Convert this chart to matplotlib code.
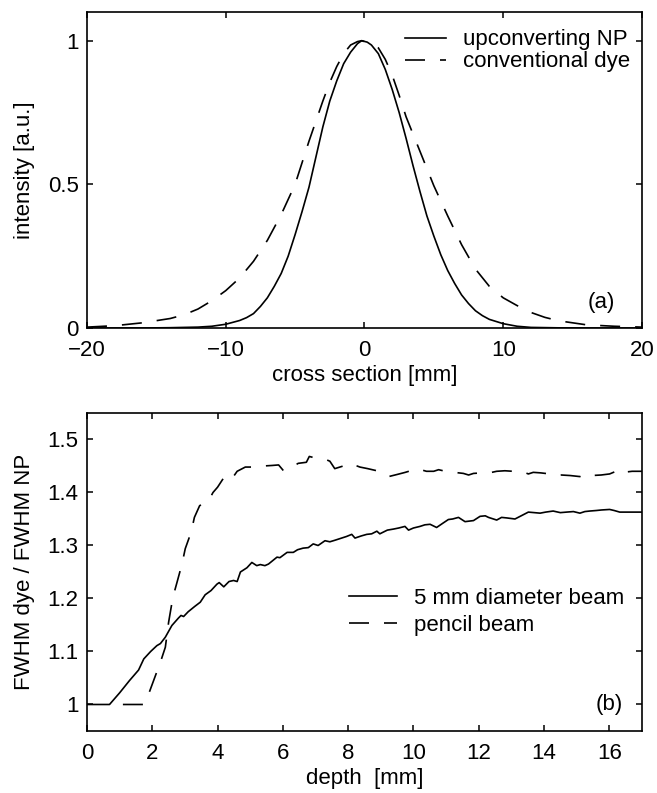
import numpy as np
import matplotlib.pyplot as plt
from matplotlib.ticker import FixedLocator, FuncFormatter

plt.rcParams['font.family'] = ['Liberation Sans', 'DejaVu Sans']
plt.rcParams['font.size'] = 16

# panel (a): intensity profiles across the beam
np_x = [-20, -16, -14, -12, -11, -10, -9, -8.5, -8, -7.5, -7, -6.5, -6, -5.5, -5, -4.5,
        -4, -3.5, -3, -2.5, -2, -1.5, -1, -0.5, -0.2, 0.2, 0.5, 1, 1.5, 2, 2.5, 3, 3.5,
        4, 4.5, 5, 5.5, 6, 6.5, 7, 7.5, 8, 8.5, 9, 10, 11, 12, 14, 16, 20]
np_y = [0, 0, 0.001, 0.003, 0.006, 0.013, 0.026, 0.036, 0.05, 0.075, 0.105, 0.145, 0.19,
        0.25, 0.325, 0.405, 0.49, 0.595, 0.70, 0.79, 0.86, 0.92, 0.96, 0.99, 1.0, 0.995,
        0.985, 0.955, 0.90, 0.83, 0.75, 0.66, 0.565, 0.475, 0.39, 0.32, 0.255, 0.20,
        0.155, 0.115, 0.085, 0.06, 0.043, 0.03, 0.015, 0.006, 0.002, 0.0005, 0, 0]

dye_x = [-20, -18, -16, -14, -13, -12, -11, -10, -9, -8, -7, -6, -5, -4, -3, -2.5, -2,
         -1.5, -1, -0.5, -0.2, 0.5, 1, 1.5, 2, 2.5, 3, 4, 5, 6, 7, 8, 9, 10, 11, 12, 13,
         14, 16, 18, 20]
dye_y = [0.003, 0.008, 0.018, 0.033, 0.046, 0.066, 0.095, 0.13, 0.174, 0.232, 0.305, 0.395,
         0.50, 0.65, 0.79, 0.855, 0.91, 0.955, 0.985, 0.997, 1.0, 0.99, 0.975, 0.935,
         0.88, 0.81, 0.735, 0.615, 0.495, 0.39, 0.29, 0.205, 0.145, 0.105, 0.078, 0.054,
         0.037, 0.025, 0.011, 0.006, 0.003]

# panel (b): FWHM ratio vs depth
beam_d = [0, 0.69, 1.0, 1.3, 1.58, 1.74, 1.95, 2.14, 2.25, 2.40, 2.60, 2.80, 2.88, 2.96,
          3.1, 3.30, 3.47, 3.62, 3.8, 3.98, 4.05, 4.19, 4.35, 4.49, 4.60, 4.70, 4.9, 5.05,
          5.2, 5.31, 5.45, 5.56, 5.70, 5.82, 5.91, 6.13, 6.32, 6.45, 6.62, 6.78, 6.93, 7.08,
          7.29, 7.44, 7.6, 7.80, 7.95, 8.11, 8.21, 8.40, 8.57, 8.72, 8.88, 8.97, 9.2, 9.39,
          9.55, 9.74, 9.85, 10.0, 10.20, 10.35, 10.51, 10.71, 10.9, 11.07, 11.2, 11.38,
          11.58, 11.84, 12.04, 12.2, 12.30, 12.55, 12.7, 12.86, 13.11, 13.3, 13.52, 13.7,
          13.88, 14.05, 14.28, 14.5, 14.69, 14.9, 15.10, 15.25, 15.40, 15.6, 15.76, 16.01,
          16.15, 16.32, 16.62, 17.0]
beam_r = [1.0, 1.0, 1.022, 1.045, 1.065, 1.086, 1.10, 1.111, 1.115, 1.127, 1.149, 1.163,
          1.168, 1.166, 1.175, 1.185, 1.193, 1.207, 1.215, 1.227, 1.230, 1.222, 1.232,
          1.234, 1.232, 1.250, 1.258, 1.268, 1.262, 1.264, 1.262, 1.265, 1.272, 1.278,
          1.277, 1.287, 1.287, 1.292, 1.295, 1.296, 1.303, 1.300, 1.309, 1.307, 1.310,
          1.314, 1.317, 1.321, 1.314, 1.318, 1.321, 1.322, 1.327, 1.322, 1.329, 1.331,
          1.333, 1.336, 1.329, 1.333, 1.336, 1.339, 1.340, 1.334, 1.342, 1.349, 1.350,
          1.353, 1.345, 1.347, 1.355, 1.356, 1.353, 1.348, 1.353, 1.352, 1.350, 1.356,
          1.363, 1.362, 1.361, 1.363, 1.365, 1.362, 1.363, 1.364, 1.361, 1.364, 1.365,
          1.366, 1.367, 1.368, 1.366, 1.363, 1.363, 1.363]

pencil_d = [1.1, 1.75, 1.89, 2.04, 2.25, 2.40, 2.50, 2.63, 2.76, 2.91, 3.01, 3.19, 3.29,
            3.45, 3.57, 3.73, 3.86, 4.0, 4.17, 4.30, 4.44, 4.6, 4.85, 5.21, 5.4, 5.67,
            5.87, 6.02, 6.2, 6.47, 6.72, 6.81, 7.0, 7.29, 7.44, 7.59, 7.85, 8.11, 8.23,
            8.36, 8.6, 8.88, 9.09, 9.24, 9.5, 9.75, 9.91, 10.11, 10.4, 10.62, 10.77, 10.98,
            11.25, 11.53, 11.69, 11.84, 12.1, 12.40, 12.55, 12.80, 13.05, 13.32, 13.52,
            13.67, 13.9, 14.18, 14.33, 14.53, 14.8, 15.10, 15.25, 15.46, 15.75, 16.01,
            16.32, 16.42, 16.7, 17.0]
pencil_r = [1.0, 1.0, 1.02, 1.045, 1.08, 1.108, 1.155, 1.202, 1.231, 1.265, 1.294, 1.325,
            1.353, 1.375, 1.380, 1.385, 1.40, 1.41, 1.426, 1.432, 1.426, 1.44, 1.448,
            1.448, 1.45, 1.451, 1.452, 1.441, 1.445, 1.455, 1.457, 1.468, 1.465, 1.463,
            1.459, 1.445, 1.45, 1.455, 1.451, 1.448, 1.445, 1.441, 1.436, 1.430, 1.434,
            1.438, 1.441, 1.445, 1.44, 1.440, 1.443, 1.440, 1.438, 1.436, 1.433, 1.436,
            1.437, 1.438, 1.440, 1.441, 1.44, 1.440, 1.435, 1.438, 1.437, 1.435, 1.432,
            1.433, 1.432, 1.430, 1.435, 1.432, 1.433, 1.435, 1.443, 1.438, 1.44, 1.44]

dash = (0, (12, 9))
lw = 1.2


def fmt(v, pos):
    return ('%g' % v).replace('-', '\u2212')


def style(ax):
    for s in ax.spines.values():
        s.set_linewidth(1.2)
    ax.tick_params(direction='in', top=True, right=True, length=4.5, width=1.1)
    ax.tick_params(axis='x', pad=8.5)
    ax.tick_params(axis='y', pad=6)
    ax.xaxis.set_major_formatter(FuncFormatter(fmt))
    ax.yaxis.set_major_formatter(FuncFormatter(fmt))


fig = plt.figure(figsize=(6.57, 7.93), dpi=100)
ax1 = fig.add_axes([0.1324, 0.5864, 0.8447, 0.3985])
ax2 = fig.add_axes([0.1324, 0.0782, 0.8447, 0.401])

ax1.plot(np_x, np_y, color='black', lw=lw, label='upconverting NP')
ax1.plot(dye_x, dye_y, color='black', lw=lw, linestyle=dash, label='conventional dye')
ax1.set_xlim(-20, 20)
ax1.set_ylim(0, 1.1)
ax1.xaxis.set_major_locator(FixedLocator([-20, -10, 0, 10, 20]))
ax1.yaxis.set_major_locator(FixedLocator([0, 0.5, 1]))
ax1.set_xlabel('cross section [mm]', labelpad=3)
ax1.set_ylabel('intensity [a.u.]', labelpad=9)
ax1.text(17.1, 0.087, '(a)', ha='center', va='center')
ax1.legend(loc='upper left', bbox_to_anchor=(0.573, 0.945), frameon=False,
           borderpad=0, borderaxespad=0, handlelength=1.85, handletextpad=0.75,
           labelspacing=0.05)
style(ax1)

ax2.plot(beam_d, beam_r, color='black', lw=lw, label='5 mm diameter beam')
ax2.plot(pencil_d, pencil_r, color='black', lw=lw, linestyle=dash, label='pencil beam')
ax2.set_xlim(0, 17)
ax2.set_ylim(0.95, 1.55)
ax2.xaxis.set_major_locator(FixedLocator(np.arange(0, 17, 2)))
ax2.yaxis.set_major_locator(FixedLocator([1, 1.1, 1.2, 1.3, 1.4, 1.5]))
ax2.set_xlabel('depth  [mm]', labelpad=3)
ax2.set_ylabel('FWHM dye / FWHM NP', labelpad=9)
ax2.text(16.0, 1.0, '(b)', ha='center', va='center')
ax2.legend(loc='upper left', bbox_to_anchor=(0.472, 0.451), frameon=False,
           borderpad=0, borderaxespad=0, handlelength=2.15, handletextpad=0.78,
           labelspacing=0.28)
style(ax2)

fig.savefig('out.png', dpi=100)
